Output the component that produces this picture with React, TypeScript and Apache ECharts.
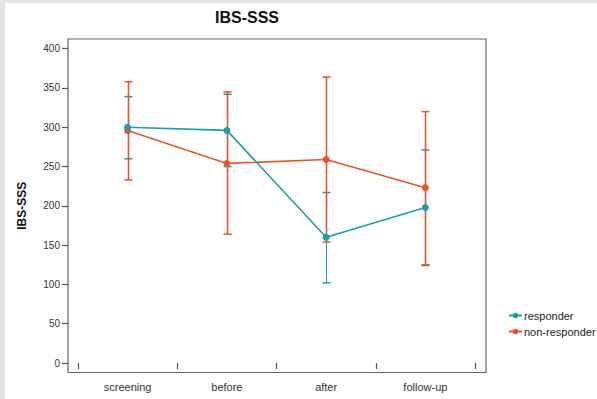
import React, { useEffect, useRef } from "react";
import * as echarts from "echarts";

const categories = ["screening", "before", "after", "follow-up"];
const responderMean = [300, 296, 160, 198];
const responderLow = [260, 250, 102, 125];
const responderHigh = [339, 342, 217, 271];
const nonResponderMean = [296, 254, 259, 223];
const nonResponderLow = [233, 164, 154, 124];
const nonResponderHigh = [358, 345, 364, 320];
const yTicks = [0, 400, 50];

const TEAL = "#1c9ea3";
const ORANGE = "#e8542c";
const FONT = "'Liberation Sans', Arial, sans-serif";

function errorSeries(name: string, low: number[], high: number[], color: string, z: number, lw: number) {
  return {
    type: "custom",
    name,
    xAxisIndex: 1,
    yAxisIndex: 1,
    z,
    silent: true,
    data: categories.map((_, i) => [i, low[i], high[i]]),
    renderItem: (params: any, api: any) => {
      const x = api.value(0);
      const lo = api.coord([x, api.value(1)]);
      const hi = api.coord([x, api.value(2)]);
      const cx = Math.round(lo[0]) + 0.5;
      const hw = 4;
      const style = { stroke: color, lineWidth: lw };
      return {
        type: "group",
        children: [
          { type: "line", shape: { x1: cx, y1: lo[1], x2: cx, y2: hi[1] }, style },
          { type: "line", shape: { x1: cx - hw, y1: lo[1], x2: cx + hw, y2: lo[1] }, style: { stroke: color, lineWidth: 1.5 } },
          { type: "line", shape: { x1: cx - hw, y1: hi[1], x2: cx + hw, y2: hi[1] }, style: { stroke: color, lineWidth: 1.5 } },
        ],
      };
    },
  };
}

export default function App() {
  const ref = useRef<HTMLDivElement>(null);
  useEffect(() => {
    if (!ref.current) return;
    const chart = echarts.init(ref.current, undefined, { renderer: "svg" });
    chart.setOption({
      animation: false,
      backgroundColor: "#ffffff",
      title: {
        text: "IBS-SSS",
        left: 210,
        top: 4,
        textStyle: { fontFamily: FONT, fontSize: 16, fontWeight: "bold", color: "#111" },
      },
      graphic: [
        { type: "rect", shape: { x: 0, y: 0, width: 5, height: 399 }, style: { fill: "#e4e4e4" }, silent: true },
        { type: "rect", shape: { x: 0, y: 0, width: 597, height: 3 }, style: { fill: "#e4e4e4" }, silent: true },
      ],
      legend: {
        orient: "vertical",
        left: 503,
        top: 305,
        itemWidth: 13,
        itemHeight: 7,
        itemGap: 5,
        data: ["responder", "non-responder"],
        textStyle: { fontFamily: FONT, fontSize: 11, color: "#222", padding: [0, 0, 0, -3] },
      },
      grid: [
        {
          left: 68,
          top: 39,
          width: 418,
          height: 333.5,
          show: true,
          borderColor: "#666",
          borderWidth: 1.2,
          backgroundColor: "transparent",
        },
        { left: 78, right: 122, top: 48.7, bottom: 36 },
      ],
      xAxis: [
        { gridIndex: 0, type: "value", show: false, min: 0, max: 1 },
        {
          gridIndex: 1,
          type: "category",
          data: categories,
          boundaryGap: true,
          offset: 9.5,
          axisLine: { show: false },
          axisTick: { show: true, length: 6, lineStyle: { color: "#555", width: 1.2 } },
          axisLabel: { fontFamily: FONT, fontSize: 11, color: "#333", margin: 9 },
          splitLine: { show: false },
        },
      ],
      yAxis: [
        { gridIndex: 0, type: "value", show: false, min: 0, max: 1 },
        {
          gridIndex: 1,
          type: "value",
          min: yTicks[0],
          max: yTicks[1],
          interval: yTicks[2],
          offset: 10,
          name: "IBS-SSS",
          nameLocation: "middle",
          nameGap: 40,
          nameRotate: 90,
          nameTextStyle: { fontFamily: FONT, fontSize: 12, fontWeight: "bold", color: "#111" },
          axisLine: { show: false },
          axisTick: { show: true, length: 6, lineStyle: { color: "#555", width: 1.2 } },
          axisLabel: { fontFamily: FONT, fontSize: 10, color: "#333", margin: 8 },
          splitLine: { show: false },
        },
      ],
      series: [
        errorSeries("responder-err", responderLow, responderHigh, TEAL, 1, 1.1),
        errorSeries("non-responder-err", nonResponderLow, nonResponderHigh, ORANGE, 2, 1.6),
        {
          type: "line",
          name: "non-responder",
          xAxisIndex: 1,
          yAxisIndex: 1,
          z: 3,
          data: nonResponderMean,
          symbol: "circle",
          symbolSize: 7,
          itemStyle: { color: ORANGE },
          lineStyle: { color: ORANGE, width: 1.6 },
        },
        {
          type: "line",
          name: "responder",
          xAxisIndex: 1,
          yAxisIndex: 1,
          z: 4,
          data: responderMean,
          symbol: "circle",
          symbolSize: 7,
          itemStyle: { color: TEAL },
          lineStyle: { color: TEAL, width: 1.6 },
        },
      ],
    });
    return () => chart.dispose();
  }, []);
  return (
    <div
      ref={ref}
      style={{ position: "fixed", left: 0, top: 0, width: 597, height: 399 }}
    />
  );
}
